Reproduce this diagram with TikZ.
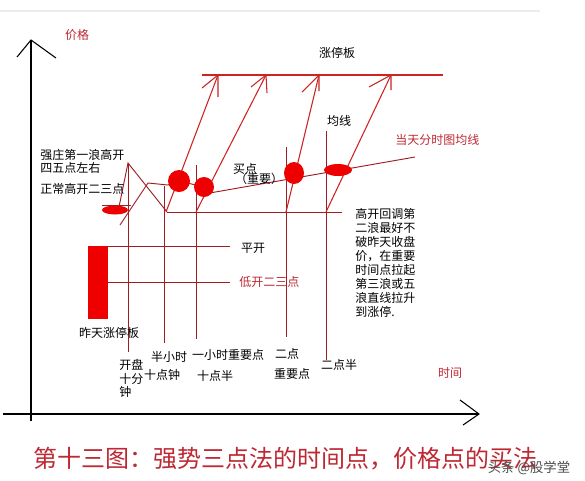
\documentclass[tikz,border=0pt]{standalone}
\usepackage{fontspec}
\setmainfont{Noto Sans CJK SC}
\definecolor{gridred}{RGB}{160,30,35}
\definecolor{arrred}{RGB}{205,35,35}
\definecolor{fillred}{RGB}{238,0,0}
\definecolor{textred}{RGB}{190,40,50}
\tikzset{
  grid/.style={draw=gridred, line width=0.7pt},
  wave/.style={draw=arrred, line width=0.8pt},
  blob/.style={fill=fillred},
  lbl/.style={inner sep=0pt, font=\fontsize{9}{10.5}\selectfont, text=black},
  rlbl/.style={lbl, text=textred},
}
\begin{document}
\begin{tikzpicture}[x=0.75pt,y=-0.75pt]
\useasboundingbox (0,0) rectangle (585,480);
\fill[white] (0,0) rectangle (585,480);
\draw[gray!15, line width=0.8pt] (0,11) -- (540,11);

% axes
\coordinate (yb) at (31,421);
\coordinate (yt) at (31,40);
\coordinate (ya1) at (17,57);
\coordinate (ya2) at (56,58);
\draw[black, line width=0.8pt] (yb) -- (yt);
\draw[black, line width=0.8pt] (ya1) -- (yt) -- (ya2);
\coordinate (xl) at (3,414);
\coordinate (xr) at (479,414);
\coordinate (xa1) at (460,400);
\coordinate (xa2) at (463,425);
\draw[black, line width=0.8pt] (xl) -- (xr);
\draw[black, line width=0.8pt] (xa1) -- (xr) -- (xa2);
\node[rlbl] (py) at (77,35) {价格};
\node[rlbl] (tx) at (450,373) {时间};

% limit-up line
\coordinate (lu1) at (202,75);
\coordinate (lu2) at (443,75);
\draw[wave] (lu1) -- (lu2);
\node[lbl] (zt) at (337,53) {涨停板};

% grid verticals
\coordinate (v1t) at (128,163); \coordinate (v1b) at (128,352);
\coordinate (v2t) at (164,186); \coordinate (v2b) at (164,343);
\coordinate (v3t) at (196,165); \coordinate (v3b) at (196,339);
\coordinate (v4t) at (286,147); \coordinate (v4b) at (286,337);
\coordinate (v5t) at (326,131); \coordinate (v5b) at (326,360);
\draw[grid] (v1t) -- (v1b);
\draw[grid] (v2t) -- (v2b);
\draw[grid] (v3t) -- (v3b);
\draw[grid] (v4t) -- (v4b);
\draw[grid] (v5t) -- (v5b);

% grid horizontals
\coordinate (h1a) at (167,212); \coordinate (h1b) at (342,212);
\coordinate (h2a) at (108,246); \coordinate (h2b) at (230,246);
\coordinate (h3a) at (108,282); \coordinate (h3b) at (230,282);
\coordinate (h4a) at (102,205); \coordinate (h4b) at (131,205);
\draw[grid] (h1a) -- (h1b);
\draw[grid] (h2a) -- (h2b);
\draw[grid] (h3a) -- (h3b);
\draw[grid] (h4a) -- (h4b);

% price path
\coordinate (p0) at (119,207);
\coordinate (p1) at (128,163);
\coordinate (p2) at (167,212);
\coordinate (q0) at (120,225);
\coordinate (q1) at (148,183);
\coordinate (q2) at (168,185);
\draw[grid] (p0) -- (p1) -- (p2);
\draw[grid] (q0) -- (q1) -- (q2) -- (179,181) -- (204,187);
\coordinate (av1) at (204,194);
\coordinate (av2) at (415,157);
\draw[grid] (av1) -- (av2);

% rising waves with arrows
\coordinate (a1b) at (166,212); \coordinate (a1t) at (218,75);
\draw[wave] (a1b) -- (a1t);
\draw[wave] (202,88) -- (a1t) -- (218,97);
\coordinate (a2b) at (196,212); \coordinate (a2t) at (266,75);
\draw[wave] (a2b) -- (a2t);
\draw[wave] (251,87) -- (a2t) -- (267,93);
\coordinate (a3b) at (286,212); \coordinate (a3t) at (319,75);
\draw[wave] (a3b) -- (a3t);
\draw[wave] (302,92) -- (a3t) -- (319,91);
\coordinate (a4b) at (326,212); \coordinate (a4t) at (391,75);
\draw[wave] (a4b) -- (a4t);
\draw[wave] (369,87) -- (a4t) -- (391,90);

% buy points
\fill[blob] (179,181) circle[radius=11];
\fill[blob] (204,187) circle[radius=10];
\fill[blob] (294,173) ellipse[x radius=10, y radius=11];
\fill[blob] (338,170) ellipse[x radius=14, y radius=6];
\fill[blob] (115,210) ellipse[x radius=13, y radius=4.5];

% yesterday limit-up bar
\fill[blob] (88,246) rectangle (108,319);

% labels
\node[lbl, anchor=west] (l1) at (40,155) {强庄第一浪高开};
\node[lbl, anchor=west] (l2) at (40,168) {四五点左右};
\node[lbl, anchor=west] (l3) at (40,189) {正常高开二三点};
\node[lbl] (mai) at (245,169) {买点};
\node[lbl] (zy) at (259,179) {（重要）};
\node[lbl] (jx) at (339,121) {均线};
\node[rlbl, anchor=west] (dt) at (395,140) {当天分时图均线};
\node[lbl, anchor=north west, align=left] (blk) at (355,208) {高开回调第\\二浪最好不\\破昨天收盘\\价，在重要\\时间点拉起\\第三浪或五\\浪直线拉升\\到涨停.};
\node[lbl] (pk) at (253,248) {平开};
\node[rlbl, anchor=west] (dk) at (239,282) {低开二三点};
\node[lbl] (zr) at (109,333) {昨天涨停板};
\node[lbl, anchor=north west, align=left, font=\fontsize{9}{10.2}\selectfont] (kp) at (119,359) {开盘\\十分\\钟};
\node[lbl] (bx) at (169,357) {半小时};
\node[lbl] (sd) at (162,375) {十点钟};
\node[lbl] (yx) at (228,355) {一小时重要点};
\node[lbl] (sb) at (215,376) {十点半};
\node[lbl] (ed) at (287,354) {二点};
\node[lbl] (zyd) at (292,374) {重要点};
\node[lbl] (edb) at (339,365) {二点半};

% caption
\node[inner sep=0pt, text=textred, font=\fontsize{18}{20}\selectfont] (cap) at (285,459) {第十三图：强势三点法的时间点，价格点的买法};
\node[inner sep=0pt, text=black!70, font=\fontsize{10}{12}\selectfont] (wm) at (529,468) {头条 @股学堂};
\end{tikzpicture}
\end{document}
